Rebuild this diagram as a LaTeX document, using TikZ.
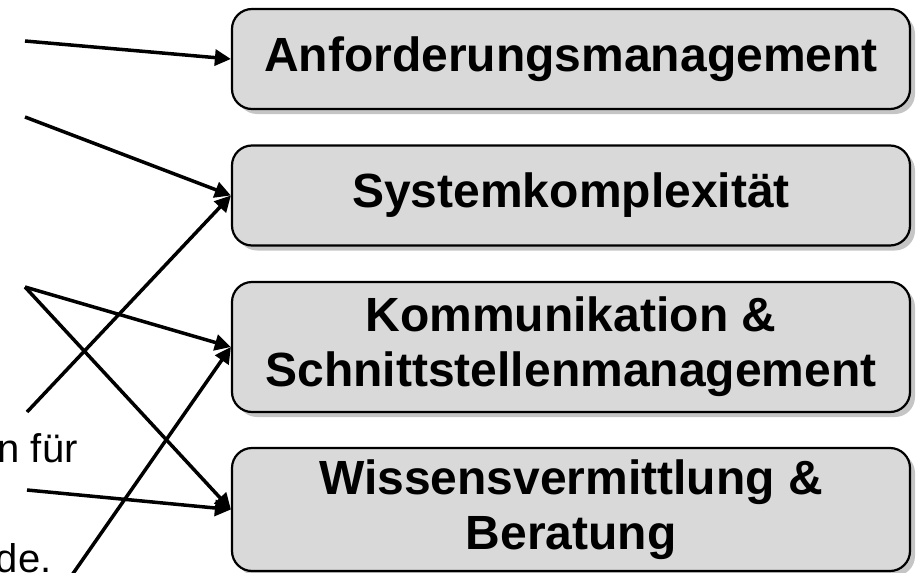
\documentclass[tikz,border=0pt]{standalone}
\usepackage{fontspec}
\setmainfont{Liberation Sans}
\usetikzlibrary{arrows.meta,shadows}
\definecolor{boxgray}{RGB}{217,217,217}
\tikzset{
  topic/.style={draw,rounded corners=10pt,fill=boxgray,line width=1.1pt,minimum width=339pt,align=center,
    font=\bfseries\fontsize{24}{27.6}\selectfont,
    drop shadow={shadow xshift=2.5pt,shadow yshift=-2.5pt,fill=black!45,opacity=0.5}},
  frag/.style={font=\fontsize{20}{24}\selectfont,inner sep=0pt,anchor=base east},
  link/.style={-{Triangle[length=8pt,width=8pt]},line width=1.75pt}
}

\begin{document}
\begin{tikzpicture}[x=0.5pt,y=-0.5pt]
  \useasboundingbox (0,0) rectangle (916,573);
  \clip (0,0) rectangle (916,573);
  \node[topic,minimum height=50pt] (anf) at (571,59) {Anforderungsmanagement};
  \node[topic,minimum height=50pt] (sys) at (571,195.5) {Systemkomplexität};
  \node[topic,minimum height=65pt] (kom) at (571,347) {Kommunikation \&\\Schnittstellenmanagement};
  \node[topic,minimum height=61.5pt] (wis) at (571,509.5) {Wissensvermittlung \&\\Beratung};
  \node[frag] (fuer) at (78,462) {n für};
  \node[frag] (de) at (52,572) {de.};
  \coordinate (s1) at (25,41);
  \coordinate (s2) at (25,117);
  \coordinate (s3) at (25,287);
  \coordinate (s4) at (27,412);
  \coordinate (s5) at (27,490);
  \coordinate (s6) at (72,575);
  \draw[link] (s1)--(anf.west);
  \draw[link] (s2)--(sys.west);
  \draw[link] (s4)--(sys.west);
  \draw[link] (s3)--(kom.west);
  \draw[link] (s6)--(kom.west);
  \draw[link] (s3)--(wis.west);
  \draw[link] (s5)--(wis.west);
\end{tikzpicture}
\end{document}
